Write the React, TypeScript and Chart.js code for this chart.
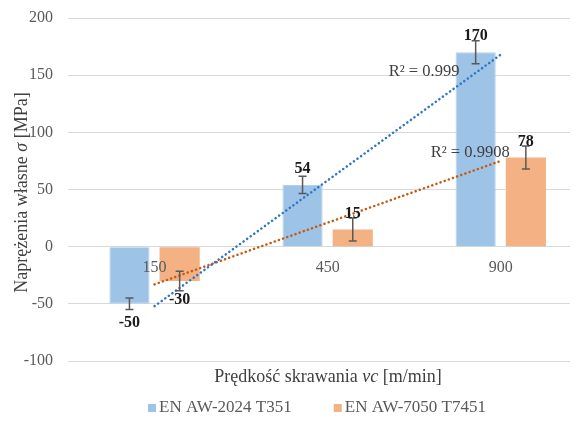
import React, { useEffect, useRef } from "react";
import { Chart, registerables } from "chart.js";
Chart.register(...registerables);

const categories = ["150", "450", "900"];
const seriesNames = ["EN AW-2024 T351", "EN AW-7050 T7451"];
const values2024 = [-50, 54, 170];
const values7050 = [-30, 15, 78];
const errors2024 = [5, 7.5, 10];
const errors7050 = [8.5, 10, 10];
const yMin = -100;
const yMax = 200;
const yStep = 50;
const yTitle = ["Naprężenia własne ", "σ", " [MPa]"];
const xTitle = ["Prędkość skrawania ", "vc", " [m/min]"];

const barColors = ["#9DC3E6", "#F4B183"];
const trendColors = ["#2E75C6", "#C55A11"];
const SERIF = "'Liberation Serif', 'Times New Roman', serif";

function linFit(vals: number[]) {
  const xs = vals.map((_, i) => i + 1);
  const n = vals.length;
  const mx = xs.reduce((a, b) => a + b, 0) / n;
  const my = vals.reduce((a, b) => a + b, 0) / n;
  let sxy = 0, sxx = 0;
  xs.forEach((x, i) => { sxy += (x - mx) * (vals[i] - my); sxx += (x - mx) * (x - mx); });
  const slope = sxy / sxx;
  const icpt = my - slope * mx;
  let ssr = 0, sst = 0;
  xs.forEach((x, i) => { const p = icpt + slope * x; ssr += (vals[i] - p) ** 2; sst += (vals[i] - my) ** 2; });
  const r2 = 1 - ssr / sst;
  return { slope, icpt, r2 };
}

type Run = { t: string; f: string };
function drawRuns(ctx: CanvasRenderingContext2D, runs: Run[], cx: number, cy: number) {
  let total = 0;
  runs.forEach((r) => { ctx.font = r.f; total += ctx.measureText(r.t).width; });
  let x = cx - total / 2;
  ctx.textAlign = "left";
  ctx.textBaseline = "middle";
  runs.forEach((r) => { ctx.font = r.f; ctx.fillText(r.t, x, cy); x += ctx.measureText(r.t).width; });
}

export default function App() {
  const ref = useRef<HTMLCanvasElement | null>(null);
  useEffect(() => {
    document.body.style.margin = "0";
    const canvas = ref.current!;
    const fits = [linFit(values2024), linFit(values7050)];
    const errs = [errors2024, errors7050];

    const overlay = {
      id: "overlay",
      afterDatasetsDraw(chart: any) {
        const ctx: CanvasRenderingContext2D = chart.ctx;
        const xs = chart.scales.x;
        const ys = chart.scales.y;
        const area = chart.chartArea;
        ctx.save();
        // error bars
        [0, 1].forEach((di) => {
          const meta = chart.getDatasetMeta(di);
          meta.data.forEach((bar: any, i: number) => {
            const v = chart.data.datasets[di].data[i].y;
            const e = errs[di][i];
            const x = bar.x;
            const y1 = ys.getPixelForValue(v + e);
            const y2 = ys.getPixelForValue(v - e);
            ctx.strokeStyle = "#595959";
            ctx.lineWidth = 1.5;
            ctx.beginPath();
            ctx.moveTo(x, y1); ctx.lineTo(x, y2);
            ctx.moveTo(x - 4, y1); ctx.lineTo(x + 4, y1);
            ctx.moveTo(x - 4, y2); ctx.lineTo(x + 4, y2);
            ctx.stroke();
          });
        });
        // category labels at zero line
        ctx.fillStyle = "#595959";
        ctx.font = `16px ${SERIF}`;
        ctx.textAlign = "center";
        ctx.textBaseline = "middle";
        const y0 = ys.getPixelForValue(0);
        categories.forEach((c, i) => ctx.fillText(c, xs.getPixelForValue(i + 1), y0 + 21));
        // data labels
        ctx.fillStyle = "#1a1a1a";
        ctx.font = `bold 16px ${SERIF}`;
        [0, 1].forEach((di) => {
          const meta = chart.getDatasetMeta(di);
          meta.data.forEach((bar: any, i: number) => {
            const v = chart.data.datasets[di].data[i].y;
            const yp = ys.getPixelForValue(v);
            ctx.fillText(String(v), bar.x, v >= 0 ? yp - 16 : yp + 19);
          });
        });
        // R² labels
        ctx.fillStyle = "#404040";
        const xEnd = xs.getPixelForValue(3);
        const f = `16.5px ${SERIF}`;
        const r2a = parseFloat(fits[0].r2.toPrecision(4)).toString();
        const r2b = parseFloat(fits[1].r2.toPrecision(4)).toString();
        const e0 = ys.getPixelForValue(fits[0].icpt + fits[0].slope * 3);
        const e1 = ys.getPixelForValue(fits[1].icpt + fits[1].slope * 3);
        ctx.font = f;
        ctx.textAlign = "left";
        ctx.fillText(`R² = ${r2a}`, xEnd - 112, e0 + 17);
        ctx.fillText(`R² = ${r2b}`, xEnd - 70, e1 - 8);
        // axis titles
        ctx.fillStyle = "#404040";
        const tf = `18px ${SERIF}`;
        const tfi = `italic 18px ${SERIF}`;
        const cxArea = (area.left + area.right) / 2;
        drawRuns(ctx, [{ t: xTitle[0], f: tf }, { t: xTitle[1], f: tfi }, { t: xTitle[2], f: tf }], cxArea + 9, area.bottom + 16);
        ctx.save();
        ctx.translate(22, (area.top + area.bottom) / 2 + 3);
        ctx.rotate(-Math.PI / 2);
        drawRuns(ctx, [{ t: yTitle[0], f: tf }, { t: yTitle[1], f: tfi }, { t: yTitle[2], f: tf }], 0, 0);
        ctx.restore();
        // legend
        ctx.font = `17px ${SERIF}`;
        const box = 8, gap = 3, spacing = 42;
        const widths = seriesNames.map((n) => box + gap + ctx.measureText(n).width);
        const total = widths[0] + widths[1] + spacing;
        let lx = cxArea - total / 2 - 2;
        const ly = area.bottom + 47;
        seriesNames.forEach((n, i) => {
          ctx.fillStyle = barColors[i];
          ctx.fillRect(lx, ly - box / 2, box, box);
          ctx.fillStyle = "#595959";
          ctx.textAlign = "left";
          ctx.textBaseline = "middle";
          ctx.fillText(n, lx + box + gap, ly);
          lx += widths[i] + spacing;
        });
        ctx.restore();
      },
    };

    const chart = new Chart(canvas, {
      type: "bar",
      data: {
        datasets: [
          {
            type: "bar",
            label: seriesNames[0],
            data: values2024.map((v, i) => ({ x: i + 1, y: v })),
            backgroundColor: barColors[0],
            borderColor: "#B4D0EC",
            borderWidth: 1,
            categoryPercentage: 0.58,
            barPercentage: 0.8,
            order: 2,
          } as any,
          {
            type: "bar",
            label: seriesNames[1],
            data: values7050.map((v, i) => ({ x: i + 1, y: v })),
            backgroundColor: barColors[1],
            borderWidth: 0,
            categoryPercentage: 0.58,
            barPercentage: 0.8,
            order: 2,
          } as any,
          {
            type: "line",
            label: "trend1",
            data: [1, 3].map((x) => ({ x, y: fits[0].icpt + fits[0].slope * x })),
            borderColor: trendColors[0],
            borderWidth: 2.5,
            borderDash: [0.1, 4.3],
            borderCapStyle: "round",
            pointRadius: 0,
            fill: false,
            order: 1,
          } as any,
          {
            type: "line",
            label: "trend2",
            data: [1, 3].map((x) => ({ x, y: fits[1].icpt + fits[1].slope * x })),
            borderColor: trendColors[1],
            borderWidth: 2.5,
            borderDash: [0.1, 4.3],
            borderCapStyle: "round",
            pointRadius: 0,
            fill: false,
            order: 1,
          } as any,
        ],
      },
      options: {
        animation: false,
        responsive: false,
        devicePixelRatio: 1,
        layout: { padding: { top: 18, right: 12, bottom: 64, left: 0 } },
        plugins: { legend: { display: false }, tooltip: { enabled: false } },
        scales: {
          x: {
            type: "linear",
            min: 0.5,
            max: 3.4,
            offset: false,
            display: false,
            afterBuildTicks: (s: any) => { s.ticks = categories.map((_, i) => ({ value: i + 1 })); },
          },
          y: {
            min: yMin,
            max: yMax,
            ticks: { stepSize: yStep, padding: 15, color: "#595959", font: { family: SERIF, size: 16 } },
            grid: { color: "#D9D9D9", lineWidth: 1, drawTicks: false },
            border: { display: false },
            afterFit: (s: any) => { s.width = 68; s.paddingTop = 0; s.paddingBottom = 0; },
          },
        },
      },
      plugins: [overlay],
    } as any);
    return () => chart.destroy();
  }, []);
  return (
    <div style={{ position: "absolute", left: 0, top: 0, width: 582, height: 425, background: "#fff" }}>
      <canvas ref={ref} width={582} height={425} />
    </div>
  );
}
